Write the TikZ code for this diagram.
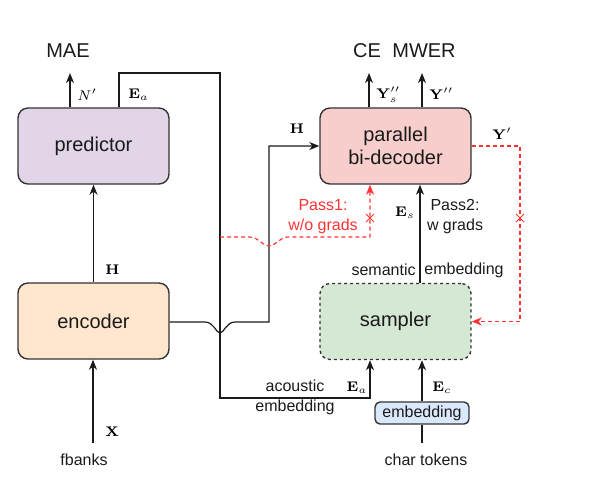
\documentclass[tikz,border=0pt]{standalone}
\usepackage[no-math]{fontspec}
\setmainfont{Liberation Sans}
\usetikzlibrary{arrows.meta,shapes.misc}
\definecolor{predfill}{HTML}{E1D5E7}
\definecolor{encfill}{HTML}{FFE6CC}
\definecolor{decfill}{HTML}{F8CECC}
\definecolor{sampfill}{HTML}{D5E8D4}
\definecolor{embfill}{HTML}{DAE8FC}
\definecolor{boxline}{HTML}{333333}
\definecolor{txt}{HTML}{1A1A1A}
\definecolor{passred}{HTML}{FF3333}
\begin{document}
\begin{tikzpicture}[x=0.5pt,y=-0.5pt,
    blk/.style={draw=boxline, line width=0.7pt, rounded corners=5pt, minimum width=75.5pt,
        minimum height=38pt, inner sep=0pt, align=center, text=txt,
        font=\fontsize{10}{11.5}\selectfont},
    lbl/.style={inner sep=0pt, align=center, text=txt, font=\fontsize{8}{10}\selectfont},
    big/.style={inner sep=0pt, text=txt, font=\fontsize{10}{12}\selectfont},
    sym/.style={inner sep=0pt, font=\fontsize{7.5}{9}\selectfont},
    arr/.style={-{Stealth[length=5pt,width=4pt,inset=1.5pt]}, line width=0.6pt, draw=txt},
    wire/.style={line width=0.6pt, draw=txt},
    reddash/.style={draw=passred, line width=0.6pt, dash pattern=on 2pt off 1.5pt},
    nograd/.style={draw=passred, cross out, line width=0.5pt, minimum size=3.5pt, inner sep=0pt}]
    \useasboundingbox (0,0) rectangle (597,495);
    % Blocks
    \node[blk, fill=predfill] (predictor) at (93.5,146) {predictor};
    \node[blk, fill=encfill] (encoder) at (93.5,321) {encoder};
    \node[blk, fill=decfill] (decoder) at (395.5,146) {parallel\\bi-decoder};
    \node[blk, fill=sampfill, dash pattern=on 1.5pt off 1.5pt] (sampler) at (395.5,321.5) {sampler};
    \node[blk, fill=embfill, rounded corners=2.5pt, minimum width=47pt, minimum height=11pt,
        font=\fontsize{8}{10}\selectfont] (emb) at (422,413) {embedding};
    % Inputs and losses
    \node[lbl] (fbanks) at (84,460) {fbanks};
    \node[lbl] (chartok) at (426,460) {char tokens};
    \node[big] (mae) at (68,51) {MAE};
    \node[big] (ce) at (367,51) {CE};
    \node[big] (mwer) at (424,51) {MWER};
    \coordinate (xin) at (93,443);
    \coordinate (cin) at (422,443);
    \coordinate (nout) at (70,73);
    \coordinate (ysout) at (369,73);
    \coordinate (yout) at (422,73);
    % Encoder and predictor
    \draw[arr] (xin) -- (xin |- encoder.south);
    \node[sym, anchor=west] (xlab) at (105,432) {$\mathbf{X}$};
    \draw[arr] (encoder.north) -- (predictor.south);
    \node[sym, anchor=west] (hlab) at (105,270) {$\mathbf{H}$};
    \draw[arr] (nout |- predictor.north) -- (nout);
    \node[sym, anchor=west] (nlab) at (77,95) {$N'$};
    \draw[arr] (ysout |- decoder.north) -- (ysout);
    \node[sym, anchor=west] (yslab) at (376,95) {$\mathbf{Y}''_s$};
    \draw[arr] (yout |- decoder.north) -- (yout);
    \node[sym, anchor=west] (ylab) at (429,94) {$\mathbf{Y}''$};
    % Acoustic embedding
    \coordinate (ea1) at (119,73);
    \coordinate (ea2) at (220,73);
    \coordinate (ea3) at (220,398);
    \coordinate (ea4) at (370,398);
    \draw[arr] (ea1 |- predictor.north) -- (ea1) -- (ea2) -- (ea3) -- (ea4) -- (ea4 |- sampler.south);
    \node[sym, anchor=west] (ealab) at (128,95) {$\mathbf{E}_a$};
    \node[lbl] (aclab) at (295,397) {acoustic\\embedding};
    \node[sym] (ealab2) at (357,388) {$\mathbf{E}_a$};
    % Encoder output to decoder, hopping the acoustic line
    \coordinate (h1) at (269,322);
    \coordinate (h2) at (269,146);
    \draw[arr] (encoder.east |- h1) -- (205,322) .. controls (214,322) and (216,333) .. (220,333)
        .. controls (224,333) and (226,322) .. (235,322) -- (h1) -- (h2) -- (decoder.west);
    \node[sym] (hlab2) at (297,129) {$\mathbf{H}$};
    % Char token embedding
    \draw[wire] (cin) -- (emb.south);
    \draw[arr] (emb.north) -- (emb.north |- sampler.south);
    \node[sym] (eclab) at (442,388) {$\mathbf{E}_c$};
    % Semantic embedding, pass 2
    \coordinate (sx) at (420,270);
    \draw[arr] (sx |- sampler.north) -- (sx |- decoder.south);
    \node[sym] (eslab) at (405,213) {$\mathbf{E}_s$};
    \node[lbl] (pass2) at (455,217) {Pass2:\\w grads};
    \node[lbl, anchor=east] (semlab) at (416,270) {semantic};
    \node[lbl, anchor=west] (emblab) at (424,270) {embedding};
    % Pass 1 without gradients
    \coordinate (p1a) at (220,237);
    \coordinate (p1b) at (370,237);
    \draw[reddash, -{Stealth[length=5pt,width=4pt,inset=1.5pt]}] (p1a) -- (250,237)
        .. controls (258,237) and (263,246) .. (269,246) .. controls (275,246) and (280,237) .. (288,237)
        -- (p1b) -- (p1b |- decoder.south);
    \node[nograd] (cut1) at (370,218) {};
    \node[lbl, text=passred] (pass1) at (323,217) {Pass1:\\w/o grads};
    % Decoder output back to sampler
    \coordinate (y1) at (520,146);
    \coordinate (y2) at (520,321.5);
    \draw[reddash, -{Stealth[length=5pt,width=4pt,inset=1.5pt]}] (decoder.east) -- (y1) -- (y2) -- (sampler.east);
    \node[nograd] (cut2) at (520,218) {};
    \node[sym] (yplab) at (502,134) {$\mathbf{Y}'$};
\end{tikzpicture}
\end{document}
